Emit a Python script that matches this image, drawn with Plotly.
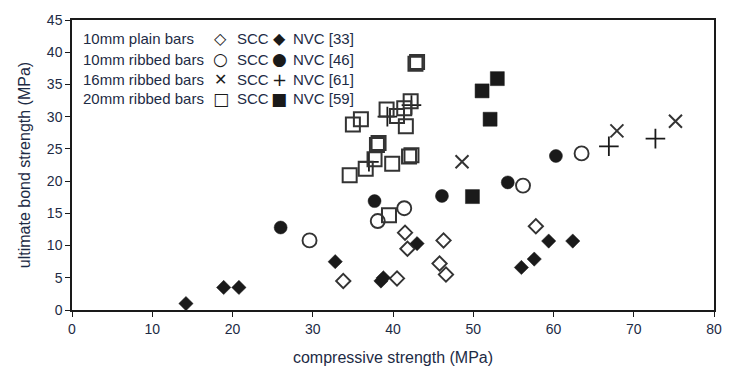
import plotly.graph_objects as go

# ---- data ----
plain_scc_x = [33.8, 40.5, 41.5, 41.8, 46.3, 45.8, 46.6, 57.8]
plain_scc_y = [4.5, 4.9, 12.0, 9.5, 10.8, 7.2, 5.5, 13.0]
plain_nvc_x = [14.2, 18.9, 20.8, 32.8, 38.5, 38.8, 43.0, 56.0, 57.6, 59.4, 62.4]
plain_nvc_y = [1.0, 3.5, 3.5, 7.5, 4.5, 5.0, 10.3, 6.6, 7.9, 10.7, 10.7]

r10_scc_x = [29.6, 38.1, 41.4, 56.2, 63.5]
r10_scc_y = [10.8, 13.8, 15.8, 19.3, 24.3]
r10_nvc_x = [26.0, 37.7, 46.1, 54.3, 60.3]
r10_nvc_y = [12.8, 16.9, 17.7, 19.8, 23.9]

r16_scc_x = [48.6, 67.9, 75.2]
r16_scc_y = [23.0, 27.8, 29.3]
r16_nvc_x = [66.9, 72.7, 39.3, 37.0, 42.3]
r16_nvc_y = [25.4, 26.6, 30.0, 23.0, 31.8]

r20_scc_x = [42.8, 43.0, 42.2, 41.4, 39.2, 40.5, 41.6, 36.0, 35.0, 38.0, 38.2,
             42.0, 42.3, 39.9, 37.7, 36.6, 34.6, 39.5]
r20_scc_y = [38.2, 38.5, 32.4, 31.3, 31.1, 30.1, 28.5, 29.6, 28.8, 25.6, 25.9,
             23.8, 24.0, 22.7, 23.4, 21.9, 20.9, 14.7]
r20_nvc_x = [53.0, 51.1, 52.1, 49.9]
r20_nvc_y = [35.9, 34.0, 29.6, 17.6]

x_ticks = [0, 10, 20, 30, 40, 50, 60, 70, 80]
y_ticks = [0, 5, 10, 15, 20, 25, 30, 35, 40, 45]

legend_rows = ["10mm plain bars", "10mm ribbed bars", "16mm ribbed bars", "20mm ribbed bars"]
legend_open = ["◇", "○", "✕", "□"]
legend_fill = ["◆", "●", "+", "■"]
legend_refs = ["NVC [33]", "NVC [46]", "NVC [61]", "NVC [59]"]

ink = "#1a1a1a"
txt = "#1d2b45"

fig = go.Figure()

def add(x, y, symbol, size, width=1.5, color=ink):
    fig.add_trace(go.Scatter(
        x=x, y=y, mode="markers", showlegend=False,
        marker=dict(symbol=symbol, size=size, color=color,
                    line=dict(width=width, color=color))))

add(plain_scc_x, plain_scc_y, "diamond-open", 11, 1.9, "#333")
add(plain_nvc_x, plain_nvc_y, "diamond", 11, 0.5)
add(r10_scc_x, r10_scc_y, "circle-open", 14, 1.9, "#333")
add(r10_nvc_x, r10_nvc_y, "circle", 13, 0.5)
add(r16_scc_x, r16_scc_y, "x-thin-open", 13, 2.0, "#333")
add(r16_nvc_x, r16_nvc_y, "cross-thin-open", 14, 1.8)
add(r20_scc_x, r20_scc_y, "square-open", 14, 2.0, "#333")
add(r20_nvc_x, r20_nvc_y, "square", 14, 0.5)

# legend as text
row_y = [0.935, 0.864, 0.796, 0.728]
open_sizes = [16, 17, 16, 17]
fill_sizes = [16, 17, 18, 17]
for i in range(4):
    yy = row_y[i]
    fig.add_annotation(xref="paper", yref="paper", x=0.014, y=yy, text=legend_rows[i],
                       showarrow=False, xanchor="left", yanchor="middle",
                       font=dict(family="Liberation Sans", size=15, color=txt))
    fig.add_annotation(xref="paper", yref="paper", x=0.232, y=yy, text=legend_open[i],
                       showarrow=False, xanchor="center", yanchor="middle",
                       font=dict(family="DejaVu Sans", size=open_sizes[i], color=ink))
    fig.add_annotation(xref="paper", yref="paper", x=0.254, y=yy, text="SCC",
                       showarrow=False, xanchor="left", yanchor="middle",
                       font=dict(family="Liberation Sans", size=15, color=txt))
    fig.add_annotation(xref="paper", yref="paper", x=0.323, y=yy, text=legend_fill[i],
                       showarrow=False, xanchor="center", yanchor="middle",
                       font=dict(family="DejaVu Sans", size=fill_sizes[i], color=ink))
    fig.add_annotation(xref="paper", yref="paper", x=0.341, y=yy, text=legend_refs[i],
                       showarrow=False, xanchor="left", yanchor="middle",
                       font=dict(family="Liberation Sans", size=15, color=txt))

fig.update_layout(
    width=734, height=376,
    margin=dict(l=72, r=15, t=19, b=63),
    paper_bgcolor="white", plot_bgcolor="white",
    font=dict(family="Liberation Sans", size=14, color=txt),
    xaxis=dict(range=[0, 80], tickvals=x_ticks, ticks="outside", ticklen=5,
               tickcolor=ink, linecolor=ink, linewidth=1.5, mirror=True,
               showgrid=False, zeroline=False, tickfont=dict(size=14),
               title=dict(text="compressive strength (MPa)", standoff=16,
                          font=dict(size=16, color=txt))),
    yaxis=dict(range=[0, 45], tickvals=y_ticks, ticks="outside", ticklen=5,
               tickcolor=ink, linecolor=ink, linewidth=1.5, mirror=True,
               showgrid=False, zeroline=False, tickfont=dict(size=14),
               title=dict(text="ultimate bond strength (MPa)", standoff=12,
                          font=dict(size=16, color=txt))),
)

fig.write_html("out.html")
